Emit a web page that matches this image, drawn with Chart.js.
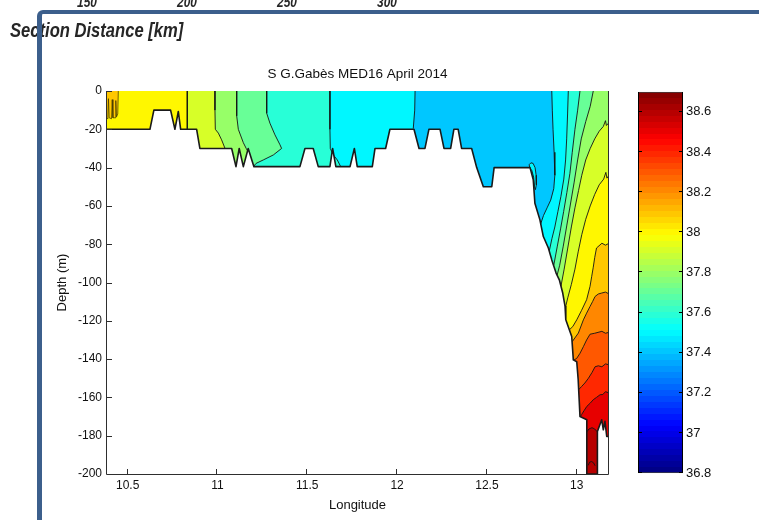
<!DOCTYPE html>
<html>
<head>
<meta charset="utf-8">
<title>S G.Gabès MED16 April 2014</title>
<script src="https://cdn.jsdelivr.net/npm/chart.js"></script>
<style>
  html, body { margin: 0; padding: 0; background: #fff; }
  #page { position: relative; width: 759px; height: 520px; overflow: hidden; }
  canvas { position: absolute; }
  #main { left: 0; top: 0; }
  #cbar { left: 620px; top: 81px; }
  .hd { position: absolute; font-family: "Liberation Sans", Arial, sans-serif; font-weight: bold; font-style: italic; color: #262626; white-space: nowrap; }
  #secTitle { left: 10px; top: 19px; font-size: 21px; line-height: 21px; transform: scaleX(0.79); transform-origin: 0 0; }
  .km { top: -6px; width: 40px; font-size: 15px; line-height: 15px; text-align: center; transform: scaleX(0.79); }
  #frame { position: absolute; left: 37px; top: 10px; width: 760px; height: 540px; border-top: 4px solid #3c5f8c; border-left: 5px solid #3c5f8c; border-top-left-radius: 6px; }
</style>
</head>
<body>
<div id="page">
  <canvas id="main" width="759" height="520"></canvas>
  <canvas id="cbar" width="139" height="403"></canvas>
  <div class="hd km" style="left:67px">150</div>
  <div class="hd km" style="left:167px">200</div>
  <div class="hd km" style="left:267px">250</div>
  <div class="hd km" style="left:367px">300</div>
  <div class="hd" id="secTitle">Section Distance [km]</div>
  <div id="frame"></div>
</div>
<script>
// axes
const lonRange = [10.385, 13.174];
const depthRange = [-200, 0];
const salRange = [36.8, 38.7];
const lonTicks = [10.5, 11, 11.5, 12, 12.5, 13];
const depthTicks = [0, -20, -40, -60, -80, -100, -120, -140, -160, -180, -200];
const salTicks = [36.8, 37, 37.2, 37.4, 37.6, 37.8, 38, 38.2, 38.4, 38.6];

// sea floor, [lon, depth m]
const seabed = [
  [10.38, -20], [10.624, -20], [10.646, -10], [10.739, -10], [10.763, -20], [10.782, -10.7], [10.795, -20],
  [10.884, -20], [10.902, -30], [11.079, -30], [11.103, -39.5], [11.121, -30], [11.144, -39.5], [11.171, -30],
  [11.203, -39.5], [11.459, -39.5], [11.487, -30], [11.533, -30], [11.561, -39.5], [11.626, -39.5], [11.641, -30],
  [11.659, -39.5], [11.738, -39.5], [11.762, -30], [11.778, -39.5], [11.862, -39.5], [11.877, -30], [11.936, -30],
  [11.96, -20], [12.094, -20], [12.122, -30], [12.155, -30], [12.177, -20], [12.239, -20], [12.261, -30],
  [12.298, -30], [12.316, -20], [12.34, -20], [12.359, -30], [12.415, -30], [12.443, -40], [12.48, -50],
  [12.527, -50], [12.54, -40], [12.74, -40], [12.758, -46.4], [12.767, -58.6], [12.795, -67.3], [12.814, -76],
  [12.842, -82], [12.861, -88.2], [12.885, -95.1], [12.903, -98.6], [12.922, -105.5], [12.935, -112.5],
  [12.939, -119.5], [12.972, -128.2], [12.981, -140.4], [13.0, -141.4], [13.008, -150.8], [13.018, -170],
  [13.056, -171.7], [13.056, -200], [13.115, -200], [13.115, -177.8], [13.139, -171.7], [13.148, -176.9],
  [13.157, -172.5], [13.167, -180.4], [13.18, -180.4]
];

// salinity of the shelf water that no isohaline encloses
const backgroundSal = 37.4;

// west side isohalines: the saltier water lies west of each line
const westLevels = [37.5, 37.6, 37.7, 37.8, 37.9, 38.0];
const w375 = [[12.100, 0], [12.098, -10], [12.090, -19.6]];
const w376 = [[11.626, 0], [11.626, -20], [11.628, -30], [11.645, -33.4], [11.667, -36], [11.686, -39.5]];
const w377 = [[11.274, 0], [11.274, -11.6], [11.292, -16.8], [11.320, -22.9], [11.348, -28.1], [11.357, -30],
  [11.311, -33.4], [11.255, -36], [11.215, -37.8], [11.200, -39.5]];
const w378 = [[11.107, 0], [11.107, -13], [11.116, -20], [11.144, -27], [11.160, -30], [11.168, -31.3]];
const w379 = [[10.986, 0], [10.986, -10], [10.988, -20], [11.005, -22], [11.023, -25.5], [11.042, -30]];
const w380 = [[10.832, 0], [10.831, -10], [10.833, -20]];

// east side isohalines: the saltier water lies east of / below each line
const eastLevels = [37.5, 37.6, 37.7, 37.8, 37.9, 38.0, 38.1, 38.2, 38.3, 38.4, 38.5, 38.6];
const e375 = [[12.861, 0], [12.864, -10], [12.868, -20], [12.874, -32], [12.878, -44], [12.872, -51], [12.855, -57],
  [12.835, -61], [12.815, -65], [12.799, -69.5]];
const e376 = [[12.953, 0], [12.949, -12], [12.944, -25], [12.938, -36], [12.928, -46], [12.912, -55], [12.895, -63],
  [12.878, -71], [12.862, -77], [12.847, -83.6]];
const e377 = [[13.018, 0], [13.005, -10], [12.99, -20], [12.975, -32], [12.962, -43], [12.945, -53], [12.927, -63],
  [12.91, -72], [12.892, -81], [12.872, -91]];
const e378 = [[13.092, 0], [13.075, -8], [13.05, -16], [13.025, -25], [13.005, -36], [12.985, -48], [12.965, -59],
  [12.945, -70], [12.925, -81], [12.905, -91], [12.89, -96.5]];
const e379 = [[13.18, -16.5], [13.165, -18], [13.16, -15.5], [13.148, -18.5], [13.125, -21], [13.1, -25], [13.075, -30],
  [13.05, -36], [13.028, -44], [13.01, -52], [12.99, -61], [12.97, -71], [12.95, -82], [12.93, -93], [12.912, -102]];
const e380 = [[13.18, -44], [13.168, -45.5], [13.162, -42.5], [13.15, -46], [13.125, -49], [13.1, -54], [13.075, -60],
  [13.05, -67], [13.028, -75], [13.008, -84], [12.99, -93], [12.97, -101], [12.95, -108], [12.936, -113.5]];
const e381 = [[13.18, -79.5], [13.16, -80.5], [13.14, -79.5], [13.11, -82], [13.1, -87], [13.092, -92], [13.083, -97],
  [13.074, -102], [13.055, -109], [13.027, -114.5], [13.0, -119.5], [12.978, -123], [12.958, -124.8]];
const e382 = [[13.18, -106], [13.16, -105], [13.139, -105.5], [13.12, -106], [13.102, -107.3], [13.088, -110],
  [13.074, -112.5], [13.055, -116], [13.037, -119.5], [13.009, -126.4], [12.974, -131]];
const e383 = [[13.18, -126], [13.16, -126.5], [13.14, -125.5], [13.1, -126.5], [13.074, -127], [13.055, -130],
  [13.037, -133.5], [13.018, -137], [13.0, -139.6], [12.983, -140.6]];
const e384 = [[13.18, -143], [13.16, -142.5], [13.14, -144], [13.12, -143.5], [13.102, -144], [13.085, -147],
  [13.065, -150], [13.045, -152.5], [13.027, -154.3], [13.01, -156]];
const e385 = [[13.18, -157.7], [13.16, -157], [13.145, -158.5], [13.13, -158.6], [13.11, -160], [13.092, -161.2],
  [13.075, -163], [13.056, -164.7], [13.04, -167], [13.027, -169], [13.018, -170.5]];
const e386 = [[13.056, -178], [13.068, -176.5], [13.085, -175.8], [13.1, -176.5], [13.115, -178]];

// closed pockets
const orangePatchSal = 38.1;
const orangePatch = [[10.38, 0], [10.38, -14], [10.39, -14.5], [10.393, -4], [10.397, -14], [10.41, -14.5],
  [10.414, -4.5], [10.418, -14], [10.43, -14], [10.434, -5], [10.438, -13.5], [10.445, -12], [10.448, 0]];
const cyanPatchSal = 37.5;
const cyanPatch = [[12.735, -38.5], [12.745, -37.5], [12.757, -37.8], [12.768, -40], [12.774, -44], [12.775, -49],
  [12.77, -51.5], [12.765, -50], [12.76, -45], [12.75, -41.5], [12.74, -40.5], [12.735, -38.5]];
const deepArc = [[13.064, -195.5], [13.072, -193.8], [13.083, -193.5], [13.094, -194.2], [13.102, -195.7]];

const westLines = [w375, w376, w377, w378, w379, w380];
const eastLines = [e375, e376, e377, e378, e379, e380, e381, e382, e383, e384, e385, e386];

Chart.defaults.font.family = '"Liberation Sans", Arial, Helvetica, sans-serif';
Chart.defaults.color = '#111';

const EDGE_W = 10.38, EDGE_E = 13.18, DEEP = -205;

// matlab style jet, 64 steps
function jet(f) {
  const c = t => Math.round(255 * Math.max(0, Math.min(1, 1.5 - Math.abs(4 * f - t))));
  return 'rgb(' + c(3) + ',' + c(2) + ',' + c(1) + ')';
}
function salColor(s) {
  const i = Math.min(63, Math.floor((s - salRange[0]) / (salRange[1] - salRange[0]) * 64));
  return jet((i + 0.5) / 64);
}

const xy = pts => pts.map(p => ({ x: p[0], y: p[1] }));

function westShape(line) {
  const end = line[line.length - 1];
  return [[EDGE_W, 0], ...line, [end[0], DEEP], [EDGE_W, DEEP]];
}
function eastShape(line) {
  const start = line[0], end = line[line.length - 1];
  const pts = [...line, [end[0], DEEP]];
  if (start[1] === 0) pts.push([EDGE_E, DEEP], [EDGE_E, 0]);
  else if (start[0] >= EDGE_E) pts.push([EDGE_E, DEEP]);
  else pts.push([start[0], DEEP]);
  return pts;
}
function area(pts, color) {
  return { data: xy(pts), fill: 'shape', backgroundColor: color, borderWidth: 0, pointRadius: 0, tension: 0 };
}
function contour(pts, width, color) {
  return { data: xy(pts), fill: false, borderColor: color || '#141414', borderWidth: width,
    borderJoinStyle: 'round', pointRadius: 0, tension: 0 };
}

// layers, bottom first
const layers = [];
layers.push(area([[EDGE_W, 0], [EDGE_E, 0], [EDGE_E, DEEP], [EDGE_W, DEEP]], salColor(backgroundSal)));
westLines.forEach((ln, i) => layers.push(area(westShape(ln), salColor(westLevels[i]))));
layers.push(area(orangePatch, salColor(orangePatchSal)));
eastLines.forEach((ln, i) => layers.push(area(eastShape(ln), salColor(eastLevels[i]))));
layers.push(area(cyanPatch, salColor(cyanPatchSal)));
[...westLines, ...eastLines, cyanPatch, deepArc].forEach(ln => layers.push(contour(ln, 0.9)));
layers.push(contour(orangePatch, 0.7, '#3a3000'));
layers.push(area([...seabed, [EDGE_E, DEEP], [EDGE_W, DEEP]], '#ffffff'));
layers.push(contour(seabed, 1.6, '#1a1a1a'));
const datasets = layers.map((d, i) => Object.assign(d, { order: layers.length - i }));

const axesBox = {
  id: 'axesBox',
  afterDatasetsDraw(chart) {
    const { ctx, chartArea: a, scales: { x, y } } = chart;
    ctx.save();
    ctx.strokeStyle = '#2e2e2e';
    ctx.lineWidth = 1;
    ctx.beginPath();
    ctx.moveTo(a.left - 0.5, a.top);
    ctx.lineTo(a.left - 0.5, a.bottom + 0.5);
    ctx.lineTo(a.right + 0.5, a.bottom + 0.5);
    ctx.lineTo(a.right + 0.5, a.top);
    lonTicks.forEach(v => {
      const px = Math.round(x.getPixelForValue(v)) - 0.5;
      ctx.moveTo(px, a.bottom);
      ctx.lineTo(px, a.bottom - 5);
    });
    depthTicks.forEach(v => {
      const py = Math.round(y.getPixelForValue(v)) + 0.5;
      ctx.moveTo(a.left, py);
      ctx.lineTo(a.left + 5, py);
    });
    ctx.stroke();
    ctx.restore();
  }
};

new Chart(document.getElementById('main'), {
  type: 'line',
  data: { datasets },
  options: {
    responsive: false,
    animation: false,
    events: [],
    devicePixelRatio: 1,
    layout: { padding: { left: 0, top: 0, right: 151, bottom: 0 } },
    plugins: {
      legend: { display: false },
      tooltip: { enabled: false },
      title: {
        display: true,
        text: 'S G.Gabès MED16 April 2014',
        fullSize: false,
        color: '#111',
        font: { size: 13.5, weight: 'normal' },
        padding: { top: 66.6, bottom: 8.2 }
      }
    },
    scales: {
      x: {
        type: 'linear',
        min: lonRange[0],
        max: lonRange[1],
        afterBuildTicks: s => { s.ticks = lonTicks.map(v => ({ value: v })); },
        afterFit: s => { s.height = 46; },
        grid: { display: false, drawTicks: false },
        border: { display: false },
        ticks: { padding: 4.7, autoSkip: false, maxRotation: 0, font: { size: 12 }, color: '#111', callback: v => String(v) },
        title: { display: true, text: 'Longitude', color: '#111', font: { size: 13 }, padding: { top: 0, bottom: 7.2 } }
      },
      y: {
        type: 'linear',
        min: depthRange[0],
        max: depthRange[1],
        afterBuildTicks: s => { s.ticks = depthTicks.map(v => ({ value: v })); },
        afterFit: s => { s.width = 107; },
        grid: { display: false, drawTicks: false },
        border: { display: false },
        ticks: { padding: 5, font: { size: 12 }, color: '#111', callback: v => String(v) },
        title: { display: true, text: 'Depth (m)', color: '#111', font: { size: 13 }, padding: { top: 54.2, bottom: 0 } }
      }
    }
  },
  plugins: [axesBox]
});

// colour bar
function cbarFill(c) {
  const ch = c.chart;
  if (!ch.chartArea) return '#ffffff';
  const ys = ch.scales.y;
  const g = ch.ctx.createLinearGradient(0, ys.getPixelForValue(salRange[0]), 0, ys.getPixelForValue(salRange[1]));
  for (let i = 0; i < 64; i++) {
    const col = jet((i + 0.5) / 64);
    g.addColorStop(i / 64, col);
    g.addColorStop((i + 1) / 64, col);
  }
  return g;
}

const cbarTicks = {
  id: 'cbarTicks',
  afterDatasetsDraw(chart) {
    const { ctx, chartArea: a, scales: { y } } = chart;
    ctx.save();
    ctx.strokeStyle = '#000';
    ctx.lineWidth = 1;
    ctx.beginPath();
    salTicks.forEach(v => {
      const py = Math.round(y.getPixelForValue(v)) - 0.5;
      ctx.moveTo(a.left, py);
      ctx.lineTo(a.left + 4, py);
      ctx.moveTo(a.right - 4, py);
      ctx.lineTo(a.right, py);
    });
    ctx.stroke();
    ctx.restore();
  }
};

new Chart(document.getElementById('cbar'), {
  type: 'bar',
  data: {
    labels: ['S'],
    datasets: [{
      data: [salRange.slice()],
      backgroundColor: cbarFill,
      borderColor: '#000',
      borderWidth: 1,
      borderSkipped: false,
      barPercentage: 1,
      categoryPercentage: 1,
      inflateAmount: 0
    }]
  },
  options: {
    responsive: false,
    animation: false,
    events: [],
    devicePixelRatio: 1,
    layout: { padding: { left: 18, right: 0, top: 10, bottom: 10 } },
    plugins: { legend: { display: false }, tooltip: { enabled: false } },
    scales: {
      x: { display: false },
      y: {
        position: 'right',
        min: salRange[0],
        max: salRange[1],
        afterBuildTicks: s => { s.ticks = salTicks.map(v => ({ value: v })); },
        afterFit: s => { s.width = 76; },
        grid: { display: false, drawTicks: false },
        border: { display: false },
        ticks: { padding: 3, font: { size: 13 }, color: '#111', callback: v => String(v) }
      }
    }
  },
  plugins: [cbarTicks]
});
</script>
</body>
</html>
